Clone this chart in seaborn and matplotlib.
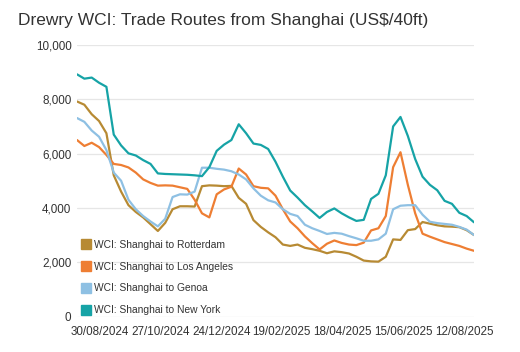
import numpy as np
import pandas as pd
import matplotlib
matplotlib.use("Agg")
import matplotlib.pyplot as plt
import matplotlib.dates as mdates
import seaborn as sns
from matplotlib.lines import Line2D

start_date = "2024-08-08"
n_weeks = 55

rotterdam = [7920, 7800, 7450, 7200, 6750, 5200, 4600, 4100, 3850, 3650,
             3400, 3150, 3450, 3950, 4060, 4060, 4050, 4800, 4830, 4820,
             4800, 4810, 4370, 4150, 3550, 3300, 3100, 2920, 2650, 2600,
             2650, 2530, 2480, 2420, 2330, 2400, 2370, 2320, 2200, 2060,
             2030, 2020, 2200, 2840, 2820, 3180, 3220, 3480, 3420, 3360,
             3320, 3310, 3290, 3180, 3000]
los_angeles = [6500, 6280, 6400, 6240, 5950, 5620, 5580, 5490, 5300, 5050,
               4920, 4820, 4830, 4820, 4760, 4700, 4300, 3800, 3650, 4500,
               4680, 4780, 5450, 5230, 4800, 4740, 4720, 4450, 3950, 3500,
               3250, 2950, 2700, 2470, 2680, 2800, 2710, 2650, 2630, 2720,
               3170, 3250, 3700, 5500, 6050, 4850, 3800, 3050, 2940, 2840,
               2740, 2670, 2600, 2500, 2420]
genoa = [7310, 7170, 6850, 6620, 6130, 5300, 5000, 4300, 3950, 3700,
         3500, 3320, 3600, 4400, 4500, 4490, 4600, 5480, 5480, 5440,
         5410, 5350, 5230, 5050, 4720, 4450, 4280, 4200, 3950, 3780,
         3700, 3380, 3250, 3150, 3040, 3080, 3050, 2960, 2880, 2790,
         2790, 2840, 3050, 3950, 4080, 4100, 4100, 3750, 3490, 3440,
         3410, 3380, 3300, 3200, 3000]
new_york = [8920, 8760, 8800, 8610, 8460, 6700, 6300, 6010, 5930, 5760,
            5620, 5270, 5250, 5240, 5230, 5220, 5200, 5170, 5500, 6100,
            6330, 6500, 7080, 6750, 6370, 6320, 6170, 5700, 5150, 4640,
            4380, 4100, 3870, 3630, 3850, 3980, 3800, 3650, 3520, 3560,
            4330, 4520, 5200, 7000, 7350, 6650, 5800, 5150, 4850, 4650,
            4260, 4150, 3820, 3700, 3470]

series_names = ["WCI: Shanghai to Rotterdam", "WCI: Shanghai to Los Angeles",
                "WCI: Shanghai to Genoa", "WCI: Shanghai to New York"]
tick_labels = ["30/08/2024", "27/10/2024", "24/12/2024", "19/02/2025",
               "18/04/2025", "15/06/2025", "12/08/2025"]
y_ticks = [0, 2000, 4000, 6000, 8000, 10000]

colors = ["#B78A33", "#EE7E33", "#8EC0E3", "#16A3A6"]

dates = pd.date_range(start_date, periods=n_weeks, freq="7D")
frames = []
for name, vals in zip(series_names, [rotterdam, los_angeles, genoa, new_york]):
    frames.append(pd.DataFrame({"date": dates, "value": vals, "route": name}))
df = pd.concat(frames, ignore_index=True)

sns.set_theme(style="white")
plt.rcParams["font.family"] = ["Liberation Sans", "DejaVu Sans"]

fig = plt.figure(figsize=(5.2, 3.52), dpi=100)
ax = fig.add_axes([77 / 520, 1 - 316.5 / 352, (474 - 77) / 520, (316.5 - 45) / 352])

sns.lineplot(data=df, x="date", y="value", hue="route", hue_order=series_names,
             palette=colors, linewidth=1.6, ax=ax, legend=False)

ax.set_xlim(dates[0], dates[-1])
ax.set_ylim(0, 10000)
ax.set_yticks(y_ticks)
ax.set_yticklabels([f"{v:,}" for v in y_ticks])
tick_dates = pd.to_datetime(tick_labels, format="%d/%m/%Y")
ax.set_xticks(tick_dates)
ax.set_xticklabels(tick_labels)
ax.grid(axis="y", color="#E6E6E6", linewidth=0.9)
ax.grid(axis="x", visible=False)
for s in ax.spines.values():
    s.set_visible(False)
ax.tick_params(axis="both", length=0, labelsize=8.4, colors="#333333")
ax.tick_params(axis="y", pad=4)
ax.tick_params(axis="x", pad=7)
ax.set_xlabel("")
ax.set_ylabel("")
ax.set_axisbelow(True)

handles = [Line2D([], [], marker="s", linestyle="none", markersize=7.5,
                  markerfacecolor=c, markeredgecolor=c) for c in colors]
leg = ax.legend(handles, series_names, loc="lower left", frameon=False,
                fontsize=7.4, labelcolor="#333333", handletextpad=0.3,
                labelspacing=1.15, borderaxespad=0.2, handlelength=1.0,
                bbox_to_anchor=(-0.007, -0.018))

fig.text(18 / 520, 1 - 20 / 352, "Drewry WCI: Trade Routes from Shanghai (US$/40ft)",
         fontsize=12.5, color="#333333", va="center", ha="left")

fig.savefig("out.png", dpi=100)
